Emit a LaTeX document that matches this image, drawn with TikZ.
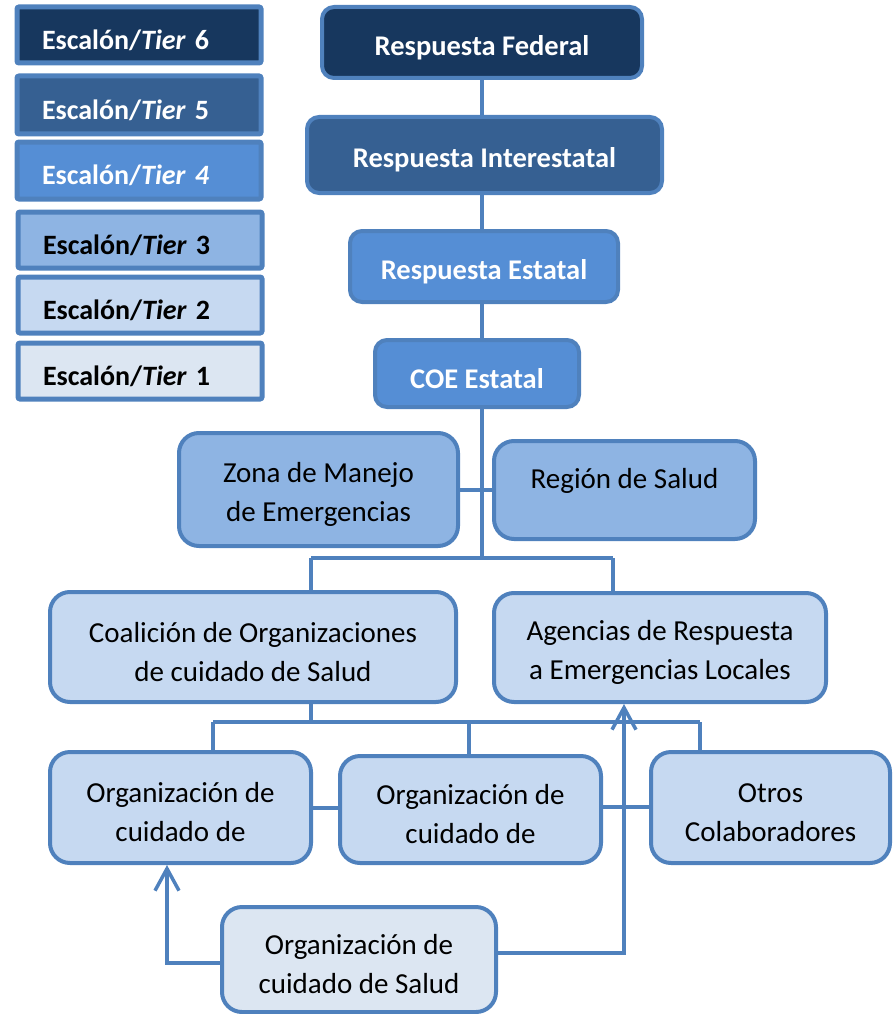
\documentclass[tikz,border=0pt]{standalone}
\usepackage{fontspec}
\setmainfont{Carlito}
\usetikzlibrary{arrows.meta}
\definecolor{tsix}{HTML}{17375E}
\definecolor{tfive}{HTML}{366092}
\definecolor{tfour}{HTML}{558ED5}
\definecolor{tthree}{HTML}{8EB4E3}
\definecolor{ttwo}{HTML}{C6D9F1}
\definecolor{tone}{HTML}{DCE6F2}
\definecolor{bordc}{HTML}{4F81BD}
\newcommand{\tstrut}{\rule{0pt}{30pt}}
\begin{document}
\begin{tikzpicture}[x=1pt,y=-1pt,
  box/.style={draw=bordc, line width=4pt, rounded corners=12pt, inner sep=0pt, align=center, text=black,
    font=\fontsize{29}{39}\selectfont},
  mainbox/.style={box, text=white, font=\bfseries\fontsize{28.5}{33}\selectfont},
  orgbox/.style={box, rounded corners=20pt},
  legbox/.style={draw=bordc, line width=5pt, rounded corners=2pt, text width=194pt, inner xsep=25pt, inner ysep=0pt,
    align=left, minimum height=56pt, font=\bfseries\fontsize{28}{33}\selectfont},
  conn/.style={draw=bordc, line width=4pt},
  arr/.style={conn, -{Straight Barb[length=22pt,width=24pt,line width=3.5pt]}}]
\useasboundingbox (0,0) rectangle (895,1014);
% legend
\node[legbox, fill=tsix, text=white] (L6) at (139,35) {\tstrut Escalón/{\itshape Tier} 6};
\node[legbox, fill=tfive, text=white, minimum height=58pt] (L5) at (139,105) {\tstrut Escalón/{\itshape Tier} 5};
\node[legbox, fill=tfour, text=white, minimum height=57pt] (L4) at (139,170.5) {\tstrut Escalón/{\itshape Tier 4}};
\node[legbox, fill=tthree, text=black] (L3) at (140,240) {\tstrut Escalón/{\itshape Tier} 3};
\node[legbox, fill=ttwo, text=black] (L2) at (140,305) {\tstrut Escalón/{\itshape Tier} 2};
\node[legbox, fill=tone, text=black] (L1) at (140,371) {\tstrut Escalón/{\itshape Tier} 1};
% main chain
\node[mainbox, fill=tsix, minimum width=320pt, minimum height=71pt] (RF) at (482,42.5) {\tstrut Respuesta Federal};
\node[mainbox, fill=tfive, minimum width=355pt, minimum height=76pt] (RI) at (484.5,155) {\tstrut Respuesta Interestatal};
\node[mainbox, fill=tfour, minimum width=268pt, minimum height=71pt] (RE) at (484,266.5) {\tstrut Respuesta Estatal};
\node[mainbox, fill=tfour, minimum width=204pt, minimum height=67pt] (COE) at (477,373.5) {\tstrut COE Estatal};
\node[orgbox, fill=tthree, minimum width=279pt, minimum height=113pt] (Zona) at (318.5,489.5) {\tstrut Zona de Manejo\\de Emergencias};
\node[orgbox, fill=tthree, minimum width=261pt, minimum height=98pt] (Reg) at (624.5,490) {\raisebox{24pt}{Región de Salud}};
\node[orgbox, fill=ttwo, minimum width=406pt, minimum height=110pt] (Coal) at (253,647) {\tstrut Coalición de Organizaciones\\de cuidado de Salud};
\node[orgbox, fill=ttwo, minimum width=332pt, minimum height=109pt] (Agen) at (660,647.5) {\tstrut Agencias de Respuesta\\a Emergencias Locales};
\node[orgbox, fill=ttwo, minimum width=261pt, minimum height=111pt] (Org1) at (180.5,807.5) {\tstrut Organización de\\cuidado de};
\node[orgbox, fill=ttwo, minimum width=261pt, minimum height=107pt] (Org2) at (470.5,809.5) {\tstrut Organización de\\cuidado de};
\node[orgbox, fill=ttwo, minimum width=239pt, minimum height=111pt] (Otros) at (770.5,807.5) {\tstrut Otros\\Colaboradores};
\node[orgbox, fill=tone, minimum width=274pt, minimum height=105pt] (Org3) at (359,959.5) {\tstrut Organización de\\cuidado de Salud};
% junction coordinates
\coordinate (j1) at (482,558);
\coordinate (c1) at (311,558);
\coordinate (c2) at (613,558);
\coordinate (j2) at (311,722);
\coordinate (d1) at (213,722);
\coordinate (d2) at (469,722);
\coordinate (d3) at (700,722);
\coordinate (a1) at (624,953);
\coordinate (a2) at (167,963);
% connectors
\draw[conn] (RF.south) -- (RF.south |- RI.north);
\draw[conn] (RF.south |- RI.south) -- (RF.south |- RE.north);
\draw[conn] (RF.south |- RE.south) -- (RF.south |- COE.north);
\draw[conn] (RF.south |- COE.south) -- (j1);
\draw[conn] (Zona.east) -- (Zona.east -| Reg.west);
\draw[conn] (c1) -- (c2);
\draw[conn] (c1) -- (c1 |- Coal.north);
\draw[conn] (c2) -- (c2 |- Agen.north);
\draw[conn] (j2 |- Coal.south) -- (j2);
\draw[conn] (d1) -- (d3);
\draw[conn] (d1) -- (d1 |- Org1.north);
\draw[conn] (d2) -- (d2 |- Org2.north);
\draw[conn] (d3) -- (d3 |- Otros.north);
\draw[conn] (Org1.east |- 0,808) -- (Org2.west |- 0,808);
\draw[conn] (Org2.east |- 0,807) -- (Otros.west |- 0,807);
\draw[arr] (Org3.east |- a1) -| (a1 |- Agen.south);
\draw[arr] (Org3.west |- a2) -| (a2 |- Org1.south);
\end{tikzpicture}
\end{document}
